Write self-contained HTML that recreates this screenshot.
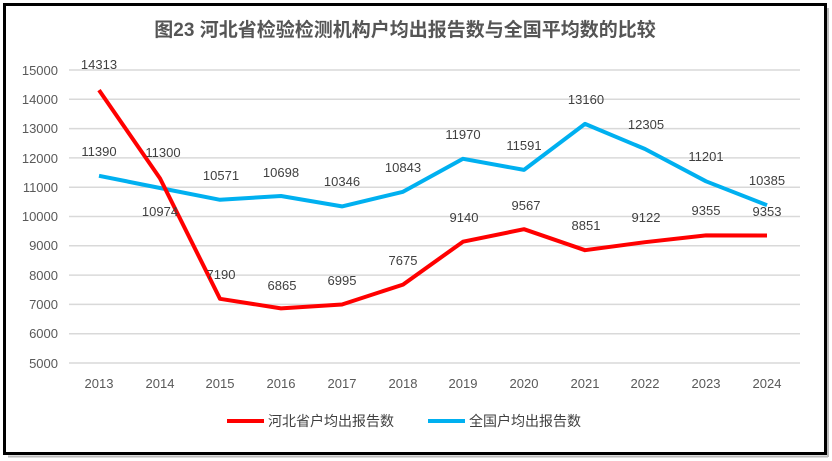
<!DOCTYPE html><html><head><meta charset="utf-8"><style>body{margin:0;background:#fff}svg{display:block}text{font-family:"Liberation Sans","Noto Sans CJK SC",sans-serif}</style></head><body>
<svg width="832" height="461" xmlns="http://www.w3.org/2000/svg">
<rect x="0" y="0" width="832" height="461" fill="#fff"/>
<rect x="4.5" y="4.5" width="821" height="449" fill="#fff" stroke="#000" stroke-width="3"/>
<line x1="828" y1="8" x2="828" y2="457" stroke="#bbb" stroke-width="2"/>
<line x1="8" y1="456.5" x2="828" y2="456.5" stroke="#bbb" stroke-width="2"/>
<text x="405" y="36" text-anchor="middle" font-size="19" font-weight="bold" fill="#555" font-family="'Noto Serif CJK SC','Noto Sans CJK SC',serif">图23  河北省检验检测机构户均出报告数与全国平均数的比较</text>
<g stroke="#d9d9d9" stroke-width="1.5">
<line x1="69" x2="800" y1="70" y2="70"/><line x1="69" x2="800" y1="99.3" y2="99.3"/><line x1="69" x2="800" y1="128.6" y2="128.6"/><line x1="69" x2="800" y1="157.9" y2="157.9"/><line x1="69" x2="800" y1="187.2" y2="187.2"/><line x1="69" x2="800" y1="216.5" y2="216.5"/><line x1="69" x2="800" y1="245.8" y2="245.8"/><line x1="69" x2="800" y1="275.1" y2="275.1"/><line x1="69" x2="800" y1="304.4" y2="304.4"/><line x1="69" x2="800" y1="333.7" y2="333.7"/><line x1="69" x2="800" y1="363" y2="363"/></g>
<g font-size="13" fill="#595959" text-anchor="end">
<text x="58" y="75">15000</text><text x="58" y="104">14000</text><text x="58" y="133">13000</text><text x="58" y="163">12000</text><text x="58" y="192">11000</text><text x="58" y="221">10000</text><text x="58" y="250">9000</text><text x="58" y="280">8000</text><text x="58" y="309">7000</text><text x="58" y="338">6000</text><text x="58" y="368">5000</text></g>
<g font-size="13" fill="#595959" text-anchor="middle">
<text x="99" y="388">2013</text><text x="160" y="388">2014</text><text x="220" y="388">2015</text><text x="281" y="388">2016</text><text x="342" y="388">2017</text><text x="403" y="388">2018</text><text x="463" y="388">2019</text><text x="524" y="388">2020</text><text x="585" y="388">2021</text><text x="645" y="388">2022</text><text x="706" y="388">2023</text><text x="767" y="388">2024</text></g>
<polyline fill="none" stroke="#00b0f0" stroke-width="4" stroke-linejoin="round" points="99,175.8 160,188 220,199.8 281,196 342,206.4 403,191.8 463,158.8 524,169.9 585,123.9 645,149 706,181.3 767,205.2"/>
<polyline fill="none" stroke="#ff0000" stroke-width="4" stroke-linejoin="round" points="99,90.1 160,178.4 220,298.8 281,308.4 342,304.5 403,284.6 463,241.7 524,229.2 585,250.2 645,242.2 706,235.4 767,235.5"/>
<g font-size="13" fill="#404040" text-anchor="middle">
<text x="99" y="69">14313</text><text x="163" y="157">11300</text><text x="221" y="279">7190</text><text x="282" y="290">6865</text><text x="342" y="285">6995</text><text x="403" y="265">7675</text><text x="464" y="222">9140</text><text x="526" y="210">9567</text><text x="586" y="230">8851</text><text x="646" y="222">9122</text><text x="706" y="215">9355</text><text x="767" y="216">9353</text>
<text x="99" y="156">11390</text><text x="160" y="216">10974</text><text x="221" y="180">10571</text><text x="281" y="177">10698</text><text x="342" y="186">10346</text><text x="403" y="172">10843</text><text x="463" y="139">11970</text><text x="524" y="150">11591</text><text x="586" y="104">13160</text><text x="646" y="129">12305</text><text x="706" y="161">11201</text><text x="767" y="185">10385</text></g>
<line x1="227" y1="421" x2="264" y2="421" stroke="#ff0000" stroke-width="4"/>
<text x="268" y="426" font-size="14" fill="#404040">河北省户均出报告数</text>
<line x1="428" y1="421" x2="465" y2="421" stroke="#00b0f0" stroke-width="4"/>
<text x="469" y="426" font-size="14" fill="#404040">全国户均出报告数</text>
</svg></body></html>
